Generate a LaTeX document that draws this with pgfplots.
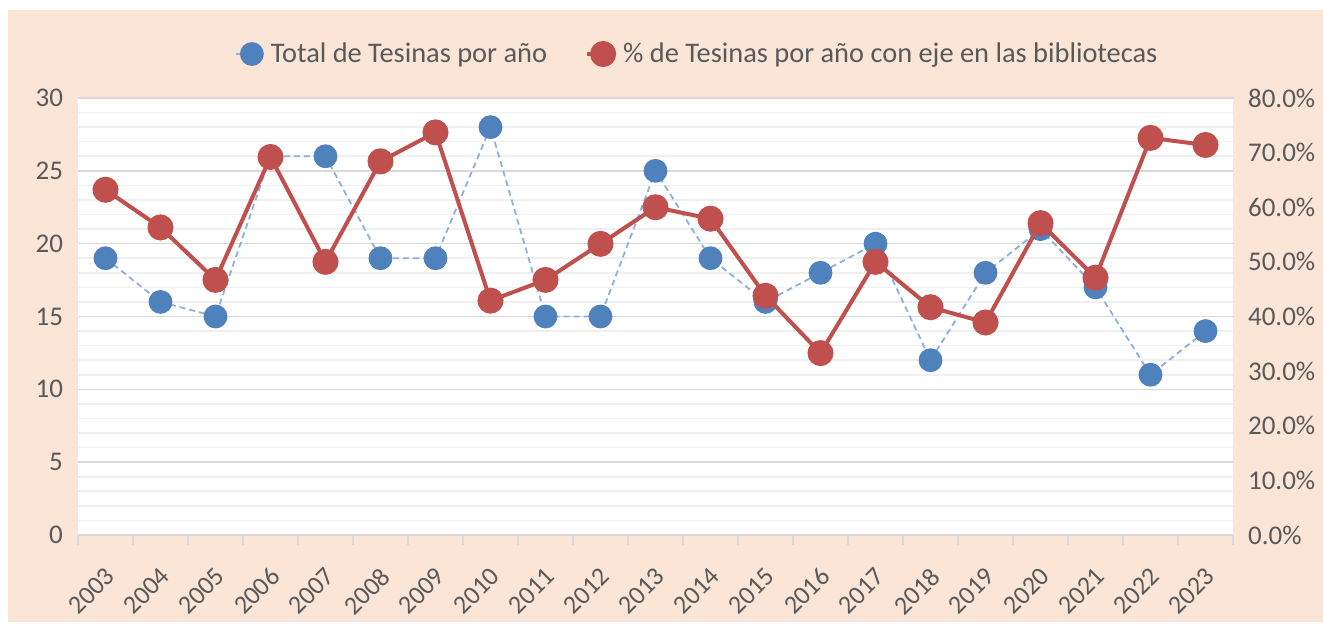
\documentclass[border=0pt]{standalone}
\usepackage{pgfplots}
\pgfplotsset{compat=1.18}
\usepackage{fontspec}
\setmainfont{Carlito}
\definecolor{peach}{HTML}{FBE5D6}
\definecolor{txtgray}{HTML}{595959}
\definecolor{majgrid}{HTML}{D9D9D9}
\definecolor{mingrid}{HTML}{EFEFEF}
\definecolor{bluem}{HTML}{4F81BD}
\definecolor{bluel}{HTML}{8FB0DA}
\definecolor{redm}{HTML}{C0504D}
\begin{document}
\begin{tikzpicture}[font=\fontsize{13.5}{16}\selectfont]
\fill[white] (0,0) rectangle (661.5pt,312.5pt);
\fill[peach] (4pt,1.5pt) rectangle (661.5pt,307.5pt);
\begin{axis}[
  at={(39pt,45pt)}, anchor=south west, scale only axis,
  width=577.5pt, height=218.5pt,
  xmin=-0.5, xmax=20.5, ymin=0, ymax=30,
  axis background/.style={fill=white},
  axis x line*=bottom, axis y line*=left,
  x axis line style={majgrid, line width=0.8pt},
  y axis line style={draw=none},
  xtick={0,...,20},
  xticklabels={2003,2004,2005,2006,2007,2008,2009,2010,2011,2012,2013,2014,2015,2016,2017,2018,2019,2020,2021,2022,2023},
  minor xtick={-0.5,0.5,...,20.5},
  major tick length=0pt,
  minor tick length=5pt,
  minor x tick style={majgrid, line width=0.8pt},
  tick pos=left,
  tick align=outside,
  xticklabel style={rotate=45, anchor=north east, txtgray, xshift=-8pt, yshift=-7pt,
    font=\fontsize{13}{15}\selectfont},
  ytick={0,5,...,30},
  minor ytick={1,2,3,4,6,7,8,9,11,12,13,14,16,17,18,19,21,22,23,24,26,27,28,29},
  minor y tick style={draw=none},
  ymajorgrids, yminorgrids,
  major grid style={majgrid, line width=0.8pt},
  minor grid style={mingrid, line width=0.8pt},
  yticklabel style={txtgray, xshift=-4pt},
  /pgf/number format/assume math mode=true,
  clip=false,
]
\addplot[bluel, densely dashed, line width=0.9pt, mark=*, mark size=5.5pt,
  mark options={solid, fill=bluem, draw=bluem}]
  coordinates {(0,19) (1,16) (2,15) (3,26) (4,26) (5,19) (6,19) (7,28) (8,15) (9,15) (10,25) (11,19) (12,16) (13,18) (14,20) (15,12) (16,18) (17,21) (18,17) (19,11) (20,14)};
\end{axis}
\begin{axis}[
  at={(39pt,45pt)}, anchor=south west, scale only axis,
  width=577.5pt, height=218.5pt,
  xmin=-0.5, xmax=20.5, ymin=0, ymax=80,
  axis x line=none,
  axis y line*=right,
  y axis line style={draw=none},
  ytick={0,10,...,80},
  ytick style={draw=none},
  yticklabel={\pgfmathprintnumber[fixed,fixed zerofill,precision=1,assume math mode=true]{\tick}\%},
  yticklabel style={txtgray, anchor=west, xshift=4pt},
  clip=false,
  legend style={draw=none, fill=none, at={(0.537,1.1007)}, anchor=center,
    legend columns=2, text=txtgray, font=\fontsize{14.2}{17}\selectfont,
    /tikz/every even column/.append style={column sep=17pt}},
  legend image code/.code={
    \draw[#1, mark=none] (0pt,0pt) -- (8pt,0pt);
    \draw[#1, only marks] plot coordinates {(8pt,0pt)};
    \path (15pt,0pt);
  },
]
\addlegendimage{bluel, densely dashed, line width=0.9pt, mark=*, mark size=5.5pt, mark options={solid, fill=bluem, draw=bluem}}
\addlegendentry{Total de Tesinas por año}
\addplot[redm, line width=2pt, mark=*, mark size=5.5pt, mark options={fill=redm, draw=redm}]
  coordinates {(0,63.2) (1,56.3) (2,46.7) (3,69.2) (4,50.0) (5,68.4) (6,73.7) (7,42.9) (8,46.7) (9,53.3) (10,60.0) (11,57.9) (12,43.8) (13,33.3) (14,50.0) (15,41.7) (16,38.9) (17,57.1) (18,47.1) (19,72.7) (20,71.4)};
\addlegendentry{\% de Tesinas por año con eje en las bibliotecas}
\end{axis}
\end{tikzpicture}
\end{document}
